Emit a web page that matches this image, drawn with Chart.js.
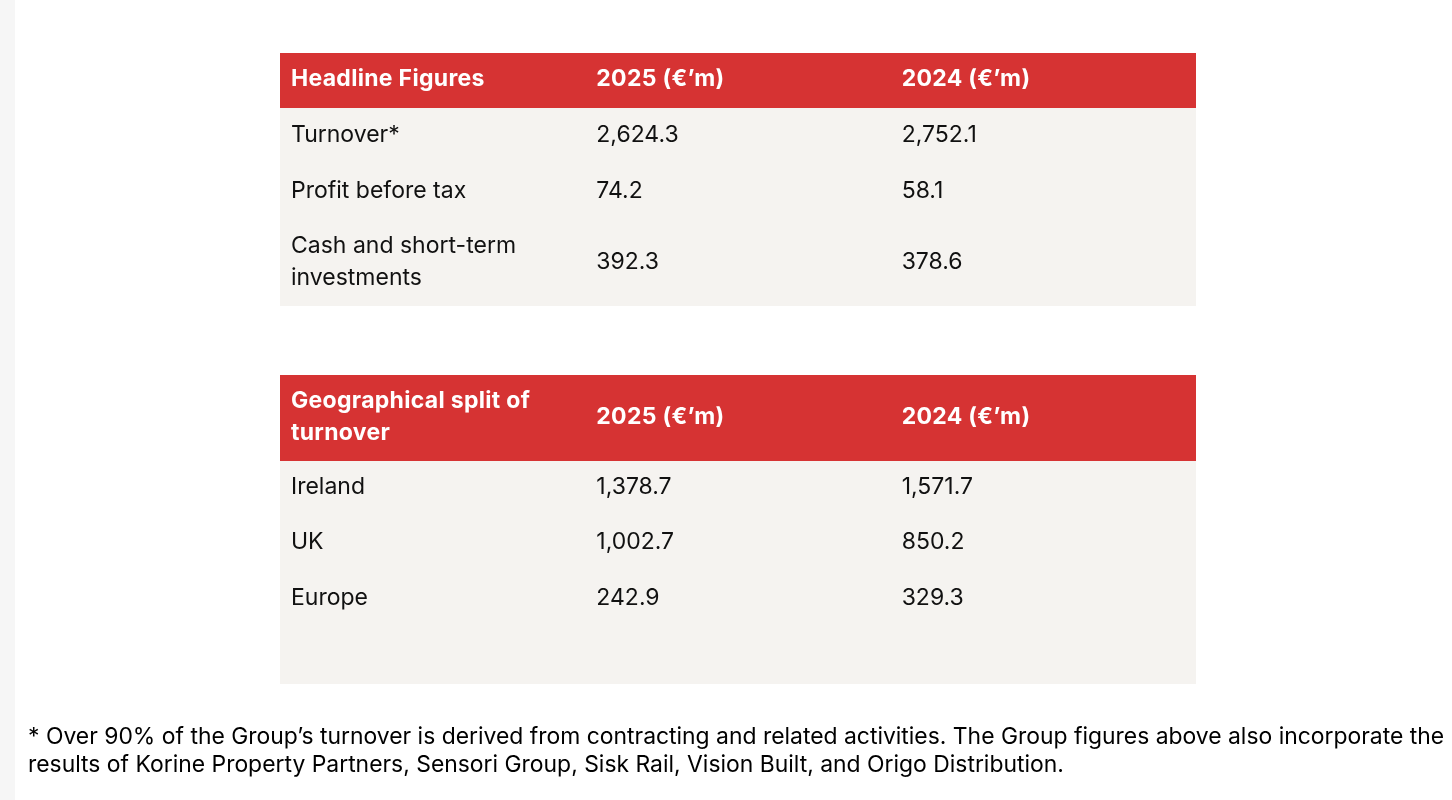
<!DOCTYPE html>
<html><head><meta charset="utf-8">
<script src="https://cdn.jsdelivr.net/npm/chart.js@4.4.1/dist/chart.umd.min.js"></script>
<style>
html,body{margin:0;padding:0;background:#fff;width:1452px;height:800px;overflow:hidden;}
#strip{position:absolute;left:0;top:0;width:15px;height:800px;background:#f6f6f6;}
#wrap{position:absolute;left:0;top:0;width:1452px;height:800px;}
#note{position:absolute;left:28px;top:722px;font-family:Inter,sans-serif;font-size:22.9px;line-height:28px;color:#000;white-space:nowrap;}
</style></head><body>
<div id="strip"></div>
<div id="wrap"><canvas id="c"></canvas></div>
<div id="note">* Over 90% of the Group’s turnover is derived from contracting and related activities. The Group figures above also incorporate the<br>results of Korine Property Partners, Sensori Group, Sisk Rail, Vision Built, and Origo Distribution.</div>
<script>
// ---- data ----
const headlineTitle = 'Headline Figures';
const yearLabels = ['2025 (€’m)', '2024 (€’m)'];
const headlineCategories = ['Turnover*', 'Profit before tax', 'Cash and short-term\ninvestments'];
const headline2025 = [2624.3, 74.2, 392.3];
const headline2024 = [2752.1, 58.1, 378.6];
const geoTitle = 'Geographical split of\nturnover';
const geoCategories = ['Ireland', 'UK', 'Europe'];
const geo2025 = [1378.7, 1002.7, 242.9];
const geo2024 = [1571.7, 850.2, 329.3];

// ---- layout (row heights in table units) ----
const RED = '#d63333', BODY = '#f5f3f0';
const rows = [];
rows.push({kind:'header', h:55, cells:[headlineTitle, yearLabels[0], yearLabels[1]]});
const hh = [56, 56, 86];
headlineCategories.forEach((c,i)=>rows.push({kind:'body', h:hh[i], cells:[c, headline2025[i], headline2024[i]]}));
rows.push({kind:'gap', h:69, cells:[]});
rows.push({kind:'header', h:86, cells:[geoTitle, yearLabels[0], yearLabels[1]]});
const gh = [55, 55, 56];
geoCategories.forEach((c,i)=>rows.push({kind:'body', h:gh[i], cells:[c, geo2025[i], geo2024[i]]}));
rows.push({kind:'body', h:57, cells:['', '', '']});
let acc = 0;
rows.forEach(r=>{ r.y0 = acc; acc += r.h; r.y1 = acc; r.yc = (r.y0 + r.y1)/2; });
const TOTAL = acc;

const fmt = v => typeof v === 'number' ? v.toLocaleString('en-US',{minimumFractionDigits:1, maximumFractionDigits:1}) : v;

// one scatter dataset per column, point per non-gap row
const datasets = [0,1,2].map(col => ({
  label: 'col'+col,
  data: rows.filter(r=>r.kind!=='gap').map(r => ({x: col, y: r.yc, text: fmt(r.cells[col]), kind: r.kind})),
  pointRadius: 0, pointHoverRadius: 0, showLine: false
}));

const tablePlugin = {
  id: 'tablePlugin',
  beforeDatasetsDraw(chart) {
    const {ctx, scales:{x, y}} = chart;
    ctx.save();
    rows.forEach(r => {
      if (r.kind === 'gap') return;
      const top = y.getPixelForValue(r.y0), bot = y.getPixelForValue(r.y1);
      const l = x.getPixelForValue(0), rr = x.getPixelForValue(3);
      ctx.fillStyle = r.kind === 'header' ? RED : BODY;
      ctx.fillRect(l, top, rr - l, bot - top);
    });
    ctx.restore();
  },
  afterDatasetsDraw(chart) {
    const {ctx} = chart;
    ctx.save();
    ctx.textBaseline = 'middle';
    ctx.textAlign = 'left';
    chart.data.datasets.forEach((ds, di) => {
      const meta = chart.getDatasetMeta(di);
      meta.data.forEach((el, i) => {
        const d = ds.data[i];
        if (!d.text) return;
        const header = d.kind === 'header';
        ctx.fillStyle = header ? '#ffffff' : '#111111';
        ctx.font = (header ? '700 ' : '400 ') + '23px Inter, sans-serif';
        if ('letterSpacing' in ctx) ctx.letterSpacing = header ? '0.3px' : '0px';
        const lines = String(d.text).split('\n');
        const lh = 32;
        lines.forEach((ln, k) => {
          const yy = el.y - 1 + (k - (lines.length - 1)/2) * lh;
          ctx.fillText(ln, el.x + 11, yy);
        });
      });
    });
    ctx.restore();
  }
};

new Chart(document.getElementById('c'), {
  type: 'scatter',
  data: { datasets },
  options: {
    responsive: true, maintainAspectRatio: false, animation: false,
    events: [],
    layout: { padding: { left: 280, right: 256, top: 53, bottom: 116 } },
    plugins: { legend: {display:false}, tooltip: {enabled:false}, title:{display:false} },
    scales: {
      x: { type:'linear', min:0, max:3, display:false },
      y: { type:'linear', min:0, max:TOTAL, reverse:true, display:false }
    }
  },
  plugins: [tablePlugin]
});
</script>
</body></html>
